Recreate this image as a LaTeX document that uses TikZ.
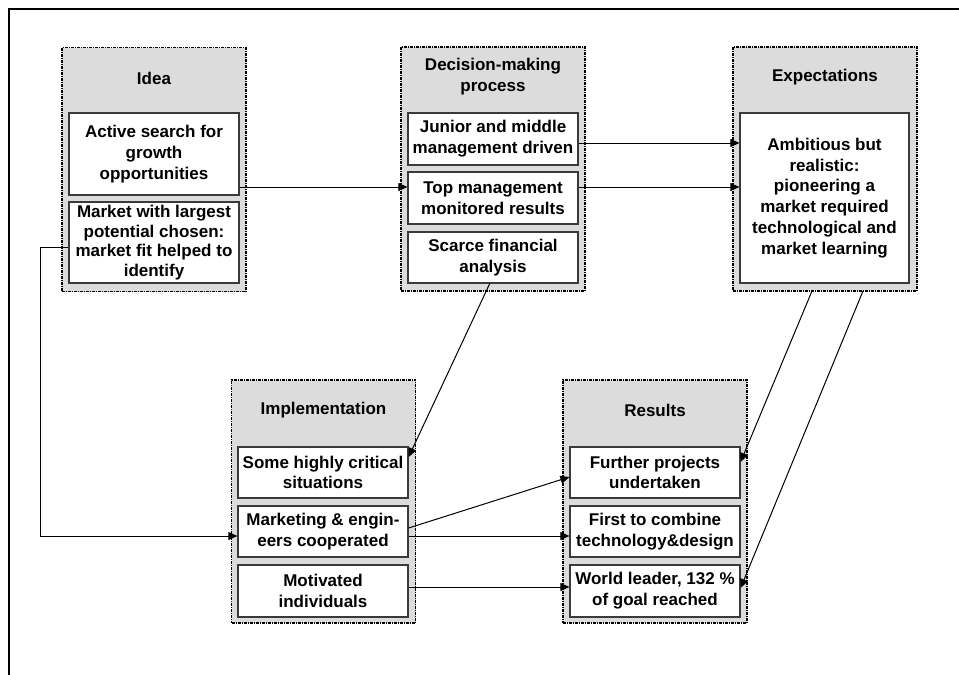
\documentclass[tikz,border=0pt]{standalone}
\usepackage{fontspec}
\setmainfont{Liberation Sans}
\usetikzlibrary{arrows.meta}
\definecolor{panelgray}{HTML}{DCDCDC}
\definecolor{boxedge}{HTML}{3A3A3A}
\begin{document}
\begin{tikzpicture}[x=1pt,y=-1pt,
  every node/.style={font=\fontsize{17}{20.8}\selectfont\bfseries, align=center, inner sep=0pt},
  panel/.style={draw=black, fill=panelgray, line width=1.1pt,
    dash pattern=on 3pt off 1pt on 1pt off 1pt, minimum width=184pt, minimum height=244pt},
  itembox/.style={draw=boxedge, fill=white, line width=1.2pt, minimum width=170pt},
  link/.style={draw=black, line width=1pt},
  arr/.style={link, -{Triangle[length=9pt,width=8pt]}}]
\useasboundingbox (0,0) rectangle (959,675);
% page frame (top and left edges)
\draw[line width=2pt] (9,675) -- (9,9) -- (970,9);

% panels
\node[panel] (ideaP) at (154,169.5) {};
\node[panel] (decP)  at (493,169) {};
\node[panel] (expP)  at (825,169) {};
\node[panel, minimum height=243pt] (impP) at (323.5,501.5) {};
\node[panel, minimum height=243pt] (resP) at (655,501.5) {};

% panel titles
\node (ideaT) at (154,78) {Idea};
\node (decT)  at (493,77) {Decision-making\\process};
\node (expT)  at (825,77) {Expectations};
\node (impT)  at (323.5,410) {Implementation};
\node (resT)  at (655,410) {Results};

% idea items
\node[itembox, minimum height=82pt] (active) at (154,154) {Active search for\\growth\\opportunities};
\node[itembox, minimum height=81pt, font=\fontsize{17}{19.5}\selectfont\bfseries] (market) at (154,242.5) {Market with largest\\potential chosen:\\market fit helped to\\identify};

% decision items
\node[itembox, minimum height=52pt] (junior) at (493,139) {Junior and middle\\management driven};
\node[itembox, minimum height=52pt] (top)    at (493,198) {Top management\\monitored results};
\node[itembox, minimum height=51pt] (scarce) at (493,257.5) {Scarce financial\\analysis};

% expectations item
\node[itembox, minimum width=169pt, minimum height=170pt] (ambit) at (824.5,198) {Ambitious but\\realistic:\\pioneering a\\market required\\technological and\\market learning};

% implementation items
\node[itembox, minimum height=51pt] (crit) at (323,472.5) {Some highly critical\\situations};
\node[itembox, minimum height=51pt] (mkt)  at (323,531.5) {Marketing \& engin-\\eers cooperated};
\node[itembox, minimum height=52pt] (mot)  at (323,591) {Motivated\\individuals};

% results items
\node[itembox, minimum height=51pt] (further) at (655,472.5) {Further projects\\undertaken};
\node[itembox, minimum height=51pt] (first)   at (655,531.5) {First to combine\\technology\&design};
\node[itembox, minimum height=52pt] (world)   at (655,591) {World leader, 132 \%\\of goal reached};

% connector levels and bends
\coordinate (lvA) at (0,143);
\coordinate (lvB) at (0,187);
\coordinate (lvC) at (0,247);
\coordinate (lvD) at (0,536);
\coordinate (lvE) at (0,587);
\coordinate (lvF) at (0,528);
\coordinate (lvG) at (0,477);
\coordinate (lvH) at (0,457);
\coordinate (lvI) at (0,462);
\coordinate (lvJ) at (0,588);
\coordinate (bendTop) at (40,247);
\coordinate (bendLow) at (40,536);
\coordinate (scOut) at (490,283);
\coordinate (exOutA) at (812,291);
\coordinate (exOutB) at (863,291);

% connectors
\draw[arr] (active.east |- lvB) -- (top.west |- lvB);
\draw[arr] (junior.east |- lvA) -- (ambit.west |- lvA);
\draw[arr] (top.east |- lvB) -- (ambit.west |- lvB);
\draw[arr] (scOut) -- (crit.east |- lvH);
\draw[arr] (market.west |- lvC) -- (bendTop) -- (bendLow) -- (mkt.west |- lvD);
\draw[arr] (mkt.east |- lvF) -- (further.west |- lvG);
\draw[arr] (mkt.east |- lvD) -- (first.west |- lvD);
\draw[arr] (mot.east |- lvE) -- (world.west |- lvE);
\draw[arr] (exOutA) -- (further.east |- lvI);
\draw[arr] (exOutB) -- (world.east |- lvJ);
\end{tikzpicture}
\end{document}
